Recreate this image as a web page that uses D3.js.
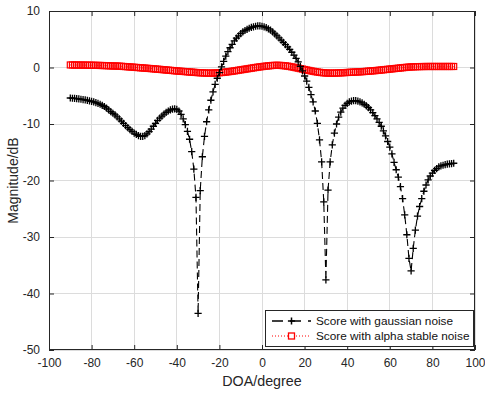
<!DOCTYPE html>
<html><head><meta charset="utf-8">
<script src="https://cdn.jsdelivr.net/npm/d3@7"></script>
<style>body{margin:0;background:#fff;}svg{display:block;font-family:"Liberation Sans",Arial,sans-serif;}</style>
</head><body>
<script>
const doa = d3.range(-90, 91, 1);
const xTicks = [-100,-80,-60,-40,-20,0,20,40,60,80,100];
const yTicks = [-50,-40,-30,-20,-10,0,10];
const seriesNames = ["Score with gaussian noise", "Score with alpha stable noise"];
const gaussian = [
 -5.40,-5.44,-5.48,-5.52,-5.56,-5.62,-5.68,-5.74,-5.82,-5.90,-6.00,
 -6.10,-6.20,-6.35,-6.50,-6.70,-6.90,-7.20,-7.50,-7.80,-8.10,
 -8.40,-8.75,-9.10,-9.50,-9.90,-10.30,-10.65,-11.00,-11.30,-11.60,
 -11.85,-12.05,-12.20,-12.20,-12.05,-11.75,-11.35,-10.90,-10.40,-9.90,
 -9.35,-8.95,-8.60,-8.25,-7.95,-7.70,-7.50,-7.38,-7.32,-7.40,
 -7.70,-8.30,-9.10,-10.10,-11.30,-12.70,-14.90,-18.00,-23.00,-43.50,
 -21.80,-15.80,-12.20,-9.60,-7.50,-5.80,-4.30,-3.00,-1.90,-0.90,
 0.10,1.10,2.00,2.80,3.50,4.10,4.70,5.20,5.60,6.00,
 6.30,6.55,6.75,6.95,7.10,7.20,7.30,7.35,7.35,7.30,
 7.20,7.05,6.85,6.60,6.30,5.95,5.60,5.25,4.85,4.45,
 4.05,3.65,3.20,2.70,2.20,1.60,1.00,0.20,-0.60,-1.50,
 -2.40,-3.50,-4.80,-6.10,-7.70,-9.90,-12.80,-16.70,-23.80,-37.60,
 -21.70,-16.70,-13.70,-11.60,-10.00,-8.80,-7.90,-7.20,-6.70,-6.35,
 -6.10,-5.95,-5.88,-5.88,-5.95,-6.08,-6.27,-6.50,-6.78,-7.10,
 -7.50,-8.00,-8.50,-9.10,-9.70,-10.40,-11.20,-12.10,-13.10,-14.10,
 -15.30,-16.80,-18.10,-19.40,-21.10,-23.20,-26.10,-29.60,-33.80,-36.00,
 -32.00,-28.80,-26.30,-24.60,-23.20,-21.90,-20.80,-19.90,-19.20,-18.70,
 -18.20,-17.90,-17.60,-17.40,-17.30,-17.20,-17.10,-17.05,-17.00,-16.95
];
const alphaStable = [
 0.45,0.45,0.44,0.44,0.43,0.43,0.42,0.42,0.41,0.40,0.40,
 0.39,0.38,0.37,0.36,0.35,0.34,0.33,0.31,0.29,0.27,
 0.27,0.25,0.23,0.21,0.18,0.16,0.13,0.10,0.07,0.04,
 0.01,-0.02,-0.05,-0.08,-0.11,-0.14,-0.17,-0.20,-0.23,-0.27,
 -0.30,-0.33,-0.37,-0.40,-0.44,-0.47,-0.51,-0.54,-0.58,-0.61,
 -0.64,-0.67,-0.70,-0.73,-0.76,-0.79,-0.82,-0.85,-0.88,-0.91,
 -0.93,-0.95,-0.97,-0.99,-1.00,-1.00,-0.99,-0.97,-0.95,-0.92,
 -0.89,-0.85,-0.81,-0.76,-0.71,-0.66,-0.60,-0.54,-0.48,-0.42,
 -0.36,-0.30,-0.24,-0.18,-0.12,-0.06,0.00,0.06,0.11,0.16,
 0.21,0.25,0.29,0.33,0.36,0.38,0.39,0.38,0.36,0.33,
 0.29,0.24,0.18,0.11,0.04,-0.04,-0.12,-0.20,-0.28,-0.36,
 -0.44,-0.52,-0.60,-0.67,-0.74,-0.80,-0.85,-0.90,-0.94,-0.97,
 -0.99,-1.00,-1.00,-0.99,-0.98,-0.96,-0.94,-0.92,-0.90,-0.88,
 -0.86,-0.84,-0.82,-0.80,-0.78,-0.76,-0.74,-0.71,-0.68,-0.65,
 -0.62,-0.59,-0.56,-0.52,-0.48,-0.44,-0.40,-0.36,-0.32,-0.28,
 -0.24,-0.20,-0.16,-0.12,-0.08,-0.04,0.00,0.04,0.07,0.10,
 0.12,0.14,0.15,0.16,0.17,0.17,0.18,0.18,0.18,0.18,
 0.18,0.18,0.18,0.18,0.18,0.18,0.18,0.18,0.18,0.18
];

const W = 485, H = 394;
const M = {left:49, right:475, top:11, bottom:350};
const dark = "#262626";
const svg = d3.select("body").append("svg").attr("width", W).attr("height", H);
const x = d3.scaleLinear().domain([-100,100]).range([M.left, M.right]);
const y = d3.scaleLinear().domain([-50,10]).range([M.bottom, M.top]);

// grid
const g = svg.append("g");
g.selectAll(".gx").data(xTicks).join("line")
  .attr("x1", d=>x(d)).attr("x2", d=>x(d)).attr("y1", M.top).attr("y2", M.bottom)
  .attr("stroke", "#dcdcdc").attr("stroke-width", 1).attr("shape-rendering","crispEdges");
g.selectAll(".gy").data(yTicks).join("line")
  .attr("y1", d=>y(d)).attr("y2", d=>y(d)).attr("x1", M.left).attr("x2", M.right)
  .attr("stroke", "#dcdcdc").attr("stroke-width", 1).attr("shape-rendering","crispEdges");

// axes
const fs = "12px";
const xAxisB = svg.append("g").attr("transform", `translate(0,${M.bottom})`)
  .call(d3.axisBottom(x).tickValues(xTicks).tickSizeInner(-5).tickSizeOuter(0).tickPadding(8).tickFormat(d=>String(d)));
const xAxisT = svg.append("g").attr("transform", `translate(0,${M.top})`)
  .call(d3.axisTop(x).tickValues(xTicks).tickSizeInner(-5).tickSizeOuter(0).tickFormat(""));
const yAxisL = svg.append("g").attr("transform", `translate(${M.left},0)`)
  .call(d3.axisLeft(y).tickValues(yTicks).tickSizeInner(-5).tickSizeOuter(0).tickPadding(9).tickFormat(d=>String(d)));
const yAxisR = svg.append("g").attr("transform", `translate(${M.right},0)`)
  .call(d3.axisRight(y).tickValues(yTicks).tickSizeInner(-5).tickSizeOuter(0).tickFormat(""));
[xAxisB,xAxisT,yAxisL,yAxisR].forEach(a=>{
  a.select(".domain").remove();
  a.selectAll(".tick line").attr("stroke", dark);
  a.selectAll("text").attr("fill", dark).style("font-size", fs).style("font-family", '"Liberation Sans",Arial,sans-serif');
});
svg.append("rect").attr("x", M.left+0.5).attr("y", M.top+0.5)
  .attr("width", M.right-M.left-1).attr("height", M.bottom-M.top-1)
  .attr("fill","none").attr("stroke", dark).attr("stroke-width", 1);

// labels
svg.append("text").attr("x", (M.left+M.right)/2).attr("y", 386).attr("text-anchor","middle")
  .attr("fill", dark).style("font-size","14.3px").text("DOA/degree");
svg.append("text").attr("transform", `translate(18,${(M.top+M.bottom)/2}) rotate(-90)`)
  .attr("text-anchor","middle").attr("fill", dark).style("font-size","14px").text("Magnitude/dB");

const plusPath = "M-3.6,0H3.6M0,-3.6V3.6";
const plot = svg.append("g");
// alpha stable series
const redData = doa.map((d,i)=>[d, alphaStable[i]]);
const line = d3.line().x(d=>x(d[0])).y(d=>y(d[1]));
plot.append("path").datum(redData).attr("d", line).attr("fill","none")
  .attr("stroke","#ff0000").attr("stroke-width",1).attr("stroke-dasharray","1,2");
plot.selectAll(".sq").data(redData).join("rect")
  .attr("x", d=>x(d[0])-3).attr("y", d=>y(d[1])-3).attr("width",6).attr("height",6)
  .attr("fill","none").attr("stroke","#ff0000").attr("stroke-width",1.2);
// gaussian series
const blackData = doa.map((d,i)=>[d, gaussian[i]]);
plot.append("path").datum(blackData).attr("d", line).attr("fill","none")
  .attr("stroke","#000").attr("stroke-width",1.1).attr("stroke-dasharray","7,4");
plot.selectAll(".pl").data(blackData).join("path")
  .attr("transform", d=>`translate(${x(d[0])},${y(d[1])})`).attr("d", plusPath)
  .attr("stroke","#000").attr("stroke-width",1.3).attr("fill","none");

// legend
const lg = svg.append("g");
lg.append("rect").attr("x",265.5).attr("y",310.5).attr("width",208).attr("height",36)
  .attr("fill","#fff").attr("stroke",dark).attr("stroke-width",1);
const rows = [321, 336];
lg.append("line").attr("x1",272).attr("x2",311).attr("y1",rows[0]).attr("y2",rows[0])
  .attr("stroke","#000").attr("stroke-width",1.3).attr("stroke-dasharray","11,7");
lg.append("path").attr("transform",`translate(291.5,${rows[0]})`).attr("d",plusPath)
  .attr("stroke","#000").attr("stroke-width",1.5);
lg.append("line").attr("x1",272).attr("x2",311).attr("y1",rows[1]).attr("y2",rows[1])
  .attr("stroke","#ff0000").attr("stroke-width",1).attr("stroke-dasharray","1,2");
lg.append("rect").attr("x",288.5).attr("y",rows[1]-3).attr("width",6).attr("height",6)
  .attr("fill","#fff").attr("stroke","#ff0000").attr("stroke-width",1.3);
lg.selectAll(".lt").data(seriesNames).join("text")
  .attr("x",316).attr("y",(d,i)=>rows[i]+4.2).attr("fill","#111")
  .style("font-size","11.8px").text(d=>d);
</script>
</body></html>
